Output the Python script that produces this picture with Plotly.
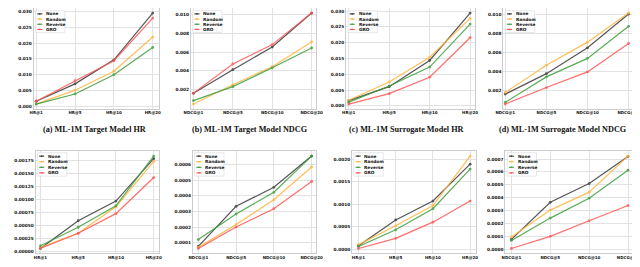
import plotly.graph_objects as go

W, H = 640, 267

hr_labels = ["HR@1", "HR@5", "HR@10", "HR@20"]
ndcg_labels = ["NDCG@1", "NDCG@5", "NDCG@10", "NDCG@20"]
methods = ["None", "Random", "Reverse", "GRO"]

# (a) ML-1M Target Model HR
a_none = [0.0016, 0.0071, 0.0147, 0.0295]
a_random = [0.0007, 0.0051, 0.0111, 0.0219]
a_reverse = [0.0007, 0.0039, 0.0100, 0.0186]
a_gro = [0.0016, 0.0081, 0.0144, 0.0279]
# (b) ML-1M Target Model NDCG
b_none = [0.00160, 0.00412, 0.00654, 0.01017]
b_random = [0.00045, 0.00252, 0.00444, 0.00708]
b_reverse = [0.00082, 0.00231, 0.00432, 0.00644]
b_gro = [0.00162, 0.00473, 0.00680, 0.01017]
# (c) ML-1M Surrogate Model HR
c_none = [0.0017, 0.0061, 0.0144, 0.0294]
c_random = [0.0018, 0.0076, 0.0154, 0.0277]
c_reverse = [0.0012, 0.0063, 0.0123, 0.0259]
c_gro = [0.0006, 0.0039, 0.0091, 0.0216]
# (d) ML-1M Surrogate Model NDCG
d_none = [0.00166, 0.00379, 0.00648, 0.01000]
d_random = [0.00183, 0.00466, 0.00707, 0.01010]
d_reverse = [0.00080, 0.00345, 0.00538, 0.00872]
d_gro = [0.00062, 0.00234, 0.00397, 0.00693]
# (e) Steam Target Model HR
e_none = [0.000065, 0.000594, 0.00097, 0.00178]
e_random = [0.000084, 0.000355, 0.00086, 0.00173]
e_reverse = [0.000116, 0.00047, 0.00088, 0.00183]
e_gro = [0.000065, 0.000355, 0.00073, 0.00142]
# (f) Steam Target Model NDCG
f_none = [0.000076, 0.000333, 0.000455, 0.000655]
f_random = [0.000070, 0.000216, 0.000375, 0.000585]
f_reverse = [0.000120, 0.000284, 0.000423, 0.000655]
f_gro = [0.000063, 0.000200, 0.000318, 0.000492]
# (g) Steam Surrogate Model HR
g_none = [0.000075, 0.00065, 0.00107, 0.00189]
g_random = [0.0001, 0.00052, 0.00097, 0.00207]
g_reverse = [0.00006, 0.00043, 0.0009, 0.00178]
g_gro = [0.000015, 0.00024, 0.0006, 0.00107]
# (h) Steam Surrogate Model NDCG
h_none = [0.000078, 0.000365, 0.00051, 0.00072]
h_random = [0.000097, 0.000305, 0.000444, 0.000723]
h_reverse = [0.00007, 0.000243, 0.000397, 0.000614]
h_gro = [0.000008, 0.000102, 0.000222, 0.00034]

ticks_a = [0.000, 0.005, 0.010, 0.015, 0.020, 0.025, 0.030]
ticks_b = [0.002, 0.004, 0.006, 0.008, 0.010]
ticks_e = [0.0, 0.00025, 0.0005, 0.00075, 0.001, 0.00125, 0.0015, 0.00175]
ticks_f = [0.0001, 0.0002, 0.0003, 0.0004, 0.0005, 0.0006]
ticks_g = [0.0, 0.0005, 0.001, 0.0015, 0.002]
ticks_h = [0.0, 0.0001, 0.0002, 0.0003, 0.0004, 0.0005, 0.0006, 0.0007]

captions = [
    "(a) ML-1M Target Model HR", "(b) ML-1M Target Model NDCG",
    "(c) ML-1M Surrogate Model HR", "(d) ML-1M Surrogate Model NDCG",
    "(e) Steam Target Model HR", "(f) Steam Target Model NDCG",
    "(g) Steam Surrogate Model HR", "(h) Steam Surrogate Model NDCG",
]

colors = {"None": "#3a3a3a", "Random": "#ffb43c", "Reverse": "#3d9e3d", "GRO": "#ff5454"}

panels = [
    (hr_labels, [a_none, a_random, a_reverse, a_gro], ticks_a, ".3f"),
    (ndcg_labels, [b_none, b_random, b_reverse, b_gro], ticks_b, ".3f"),
    (hr_labels, [c_none, c_random, c_reverse, c_gro], ticks_a, ".3f"),
    (ndcg_labels, [d_none, d_random, d_reverse, d_gro], ticks_b, ".3f"),
    (hr_labels, [e_none, e_random, e_reverse, e_gro], ticks_e, ".5f"),
    (ndcg_labels, [f_none, f_random, f_reverse, f_gro], ticks_f, ".4f"),
    (hr_labels, [g_none, g_random, g_reverse, g_gro], ticks_g, ".4f"),
    (ndcg_labels, [h_none, h_random, h_reverse, h_gro], ticks_h, ".4f"),
]

# pixel layout: spine box (x0, x1, ytop, ybot) and first/last point x
boxes = [
    (18, 146, 0.5, 101, 20.7, 140.0),
    (179, 307, 0.5, 101, 181.7, 302.7),
    (338, 470, 0.5, 101, 340.7, 465.0),
    (499, 633, 0.5, 101, 501.0, 627.3),
    (20, 146, 144, 246, 25.0, 141.0),
    (181, 307, 144, 246, 186.7, 302.7),
    (344, 471, 144, 246, 350.7, 465.0),
    (501, 633, 144, 246, 507.3, 626.7),
]

def px(x):
    return x / W

def py(y):
    return 1 - y / H

fig = go.Figure()
layout = dict(width=W, height=H, margin=dict(l=0, r=0, t=0, b=0),
              paper_bgcolor="white", plot_bgcolor="white", showlegend=False)
shapes = []
annotations = []

tick_font = dict(family="DejaVu Sans", size=4.3, color="#111", weight="bold")

for i, ((cats, series, tvals, tfmt), box) in enumerate(zip(panels, boxes)):
    n = i + 1
    xa = "x" if n == 1 else f"x{n}"
    ya = "y" if n == 1 else f"y{n}"
    for m, vals in zip(methods, series):
        fig.add_trace(go.Scatter(
            x=cats, y=vals, mode="lines+markers", name=m,
            line=dict(color=colors[m], width=1.2),
            marker=dict(color=colors[m], size=2.8),
            opacity=0.85, xaxis=xa, yaxis=ya))
    allv = [v for s in series for v in s]
    lo, hi = min(allv), max(allv)
    span = hi - lo
    yr = [lo - 0.05 * span, hi + 0.05 * span]
    x0, x1, yt, yb, p0, p3 = box
    u = (p3 - p0) / 3
    xr = [(x0 - p0) / u, 3 + (x1 - p3) / u]
    layout["xaxis" if n == 1 else f"xaxis{n}"] = dict(
        domain=[px(x0), px(x1)], anchor=ya, type="category", range=xr,
        showgrid=True, gridcolor="#e2e2e2", gridwidth=0.8,
        showline=True, linecolor="#cccccc", linewidth=0.8, mirror=True,
        ticks="", tickfont=dict(tick_font, size=4.0),
        zeroline=False, fixedrange=True)
    layout["yaxis" if n == 1 else f"yaxis{n}"] = dict(
        domain=[py(yb), py(yt)], anchor=xa, range=yr,
        tickvals=tvals, tickformat=tfmt,
        showgrid=True, gridcolor="#e2e2e2", gridwidth=0.8,
        showline=True, linecolor="#cccccc", linewidth=0.8, mirror=True,
        ticks="", tickfont=tick_font,
        zeroline=False, fixedrange=True)

    # legend box (drawn as decoration)
    top_row = i < 4
    lx = x0 + 2
    ly = yt + (2.2 if top_row else 1.3)
    step = 5.2 if top_row else 5.6
    first = 3.2 if top_row else 3.4
    bh = first + 3 * step + 3.2
    shapes.append(dict(type="rect", xref="paper", yref="paper",
                       x0=px(lx), x1=px(lx + 30), y0=py(ly + bh), y1=py(ly),
                       line=dict(color="#d8d8d8", width=0.6), fillcolor="rgba(255,255,255,0.85)"))
    for k, m in enumerate(methods):
        cy = ly + first + k * step
        shapes.append(dict(type="line", xref="paper", yref="paper",
                           x0=px(lx + 1.7), x1=px(lx + 6.9), y0=py(cy), y1=py(cy),
                           line=dict(color=colors[m], width=1.1)))
        shapes.append(dict(type="circle", xref="paper", yref="paper",
                           x0=px(lx + 3.5), x1=px(lx + 5.1), y0=py(cy + 0.8), y1=py(cy - 0.8),
                           line=dict(width=0), fillcolor=colors[m]))
        annotations.append(dict(xref="paper", yref="paper", x=px(lx + 8.8), y=py(cy),
                                text=m, showarrow=False, xanchor="left", yanchor="middle",
                                font=dict(family="DejaVu Sans", size=4.3, color="#111", weight="bold")))

    cx = (i % 4) * 160 + 80
    cyc = 121.7 if top_row else 265.8
    annotations.append(dict(xref="paper", yref="paper", x=px(cx), y=py(cyc),
                            text=captions[i], showarrow=False, xanchor="center", yanchor="middle",
                            font=dict(family="Liberation Serif", size=8.2, color="#111", weight="bold")))

layout["shapes"] = shapes
layout["annotations"] = annotations
fig.update_layout(**layout)
fig.write_html("out.html")
